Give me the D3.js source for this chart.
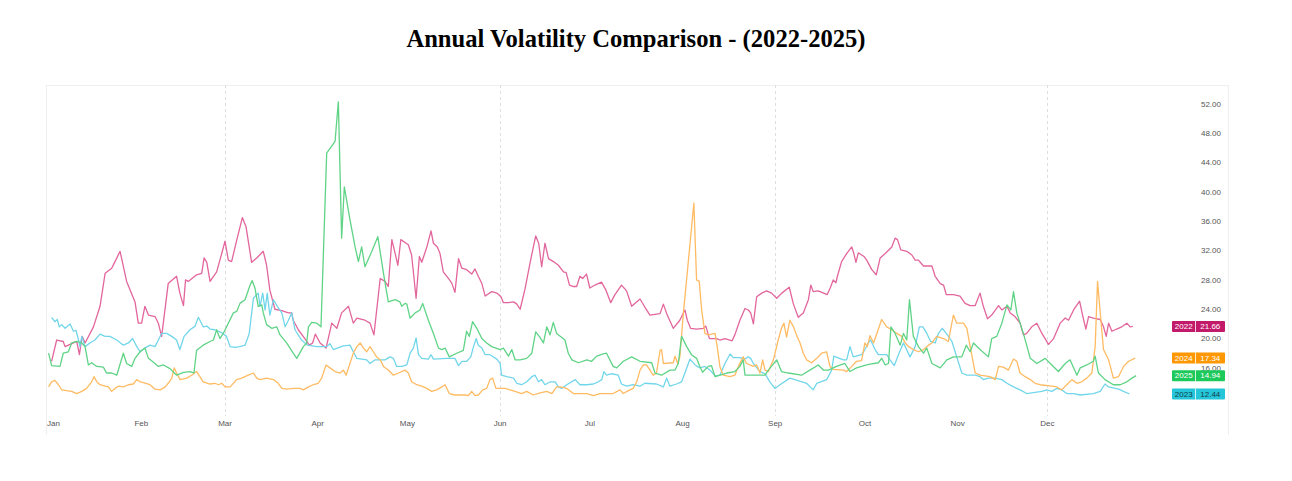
<!DOCTYPE html>
<html>
<head>
<meta charset="utf-8">
<script src="https://cdn.jsdelivr.net/npm/d3@7/dist/d3.min.js"></script>
<style>
  html, body { margin: 0; padding: 0; background: #ffffff; }
  svg { display: block; }
</style>
</head>
<body>
<svg id="chart" width="1292" height="481"></svg>
<script>
// ---------- DATA (day-of-year, value) ----------
const monthStarts = [0, 31, 59, 90, 120, 151, 181, 212, 243, 273, 304, 334];
const monthLabels = ["Jan", "Feb", "Mar", "Apr", "May", "Jun", "Jul", "Aug", "Sep", "Oct", "Nov", "Dec"];
const quarterGrid = [59, 151, 243, 334];
const yTicks = [16, 20, 24, 28, 32, 36, 40, 44, 48, 52];

const vol2022 = [[1,16.9],[2.7,19.8],[4.9,19.6],[5.5,18.9],[8.3,19.4],[9.4,19.6],[10.3,17.8],[11.2,20.3],[12.2,19.4],[15,21.6],[17.2,24.4],[18.9,28.9],[21.1,29.6],[22.2,30.5],[23.9,31.9],[26.1,27.8],[28.9,25.0],[30,22.1],[31.1,22.1],[32.2,24.4],[33.4,23.2],[35.6,23.0],[36.7,22.1],[37.8,20.3],[40,27.5],[42.8,28.5],[43.9,26.2],[45.1,24.5],[45.8,28.0],[46.7,27.8],[49.5,28.7],[51.2,28.9],[52,31.0],[52.9,30.4],[54,27.8],[56.2,29.1],[57.9,31.6],[59,33.3],[60.1,30.7],[61.2,30.5],[62.9,33.4],[64.8,36.5],[66,35.3],[67.9,30.4],[69.6,31.0],[71.8,31.9],[72.9,30.0],[74,26.6],[75.7,24.0],[78,23.8],[80.2,23.5],[81.3,23.5],[81.8,22.5],[83.5,21.2],[85.7,20.0],[87.2,19.1],[88.3,19.4],[89.2,20.6],[90.8,19.4],[92.8,18.7],[94.7,22.1],[96.4,21.4],[98,23.5],[100.3,24.4],[101.9,22.1],[103.1,22.8],[105.8,22.5],[107.5,22.1],[108.8,20.5],[110.9,28.2],[112.5,27.8],[113.6,27.1],[114.8,33.5],[115.9,31.6],[116.8,30.0],[117.8,33.5],[120.3,32.8],[121.4,31.4],[122.9,25.5],[124,31.2],[124.8,30.4],[126.5,32.5],[127.9,34.7],[128.7,33.0],[130,32.5],[130.9,31.6],[132,29.1],[133.7,28.2],[134.8,27.6],[135.9,26.3],[137.1,30.9],[138.2,29.6],[139.8,29.4],[141.5,28.8],[142.6,29.5],[143.7,28.5],[144.9,27.5],[146,25.8],[148.2,26.4],[149.9,26.2],[151.3,25.7],[152.1,24.9],[153.8,24.9],[155.5,25.0],[156.6,24.7],[157.7,24.0],[159.3,26.7],[161,30.3],[162.9,34.0],[163.9,33.0],[164.9,29.8],[166,33.0],[167.2,30.9],[168.8,30.5],[170.5,30.0],[172.2,29.1],[173.1,29.0],[174.2,27.3],[175.5,27.1],[176.6,27.1],[177.7,28.5],[178.6,28.2],[179.9,28.8],[181,26.9],[182.7,27.3],[184.9,27.7],[186.4,26.6],[188,24.9],[189.4,26.0],[191.6,27.3],[193.3,26.5],[195,24.4],[197.8,25.4],[199.4,24.3],[201.1,23.2],[202.8,23.3],[204.5,23.4],[205.6,24.7],[206.9,23.2],[208.9,21.4],[211.1,22.5],[212.8,23.9],[213.6,22.5],[214.7,21.4],[216.7,21.3],[219,21.4],[219.8,21.7],[221,20.0],[223.4,20.0],[224.5,19.8],[226.2,20.0],[228.6,19.7],[229.5,20.5],[231.2,22.5],[232.9,24.1],[234,23.9],[234.8,23.5],[235.7,22.0],[236.8,25.7],[238.5,26.2],[240.1,26.5],[241.8,26.2],[243.5,25.5],[245.2,26.2],[247.7,27.0],[249.1,24.7],[250.7,22.9],[252.4,23.5],[254.1,25.3],[254.9,27.3],[255.7,26.4],[257.4,26.5],[260.4,26.0],[261.5,27.0],[262.4,28.0],[263.3,27.6],[263.8,28.5],[265.2,30.5],[266.9,31.6],[268.6,32.5],[269.3,31.6],[270,30.4],[270.8,31.7],[272.7,31.2],[273.6,30.7],[275.3,29.4],[276.8,28.7],[278.1,31.0],[279.8,31.6],[282,32.5],[283.1,33.7],[283.9,33.5],[285,32.1],[287,31.9],[288.7,31.4],[289.8,30.7],[290.9,30.7],[292.6,29.9],[295.4,29.9],[296.5,28.5],[298.2,27.5],[299.3,27.3],[300.2,26.0],[302.6,26.0],[304.8,25.8],[306.5,24.8],[308.2,24.5],[309.9,24.5],[311.5,26.2],[312.6,24.4],[314,22.7],[315.4,23.2],[317.7,24.5],[318.8,23.9],[320.5,24.4],[321.6,23.5],[323.2,23.0],[324.9,22.1],[326,20.5],[327.1,20.7],[328.8,21.6],[330.5,22.1],[332.2,20.7],[334.4,19.2],[336.1,20.0],[338.3,22.1],[340,22.8],[341.1,22.5],[342.8,23.9],[344.8,25.1],[345.9,23.0],[346.9,21.3],[347.8,23.0],[349.4,22.8],[351.7,22.6],[352.8,21.6],[353.7,20.3],[354.5,22.1],[355.6,21.0],[357.2,21.3],[358.9,21.6],[360.6,22.1],[361.7,21.6],[362.6,21.66]];

const vol2023 = [[1,22.9],[2.1,22.3],[2.9,22.6],[3.6,21.6],[4.4,21.9],[5.5,21.4],[7.2,22.0],[8.3,21.0],[9.2,21.1],[10,19.8],[10.5,18.9],[11.1,20.3],[12.2,18.9],[13.8,19.4],[15.5,19.8],[17.2,20.6],[18.9,20.3],[20.5,20.3],[22.8,19.8],[25,19.1],[26.7,19.4],[28.1,20.0],[29.5,18.9],[30.6,18.2],[32.2,18.7],[33.9,19.1],[35.6,18.9],[36.7,19.8],[37.8,20.7],[39.5,20.7],[41.2,20.3],[42.8,19.8],[43.9,18.5],[45.3,20.3],[47.3,21.2],[49,21.7],[50.1,22.9],[51.7,21.6],[52.9,21.7],[54,21.3],[55.6,21.2],[57.9,20.8],[59.5,20.3],[60.7,18.9],[62.3,18.8],[64,18.9],[65.7,19.1],[67.1,20.7],[68.5,25.5],[70.1,26.2],[70.7,24.4],[71.6,26.2],[72.4,23.9],[73.1,26.2],[74,23.2],[75.2,25.3],[76.5,24.4],[78,23.5],[79.1,21.6],[80.2,22.5],[81.3,23.5],[82.4,21.2],[84.6,19.8],[86.6,19.1],[89.7,18.9],[93,18.9],[94.1,19.3],[95.2,18.5],[98.6,19.0],[100.8,19.1],[101.9,18.2],[103.1,17.3],[106.4,17.1],[107.5,16.6],[109.2,17.1],[112.5,17.1],[114.2,17.5],[115.3,17.3],[116.4,16.2],[118.1,16.2],[119.8,16.4],[120.9,18.0],[122,18.7],[122.9,20.1],[123.7,17.8],[124.8,17.3],[127,17.2],[127.9,17.8],[128.7,17.2],[133.2,17.3],[135.9,17.3],[137.1,16.3],[138.2,16.9],[139.8,16.9],[141.2,17.5],[142.1,18.9],[143,20.0],[143.7,19.1],[144.9,18.7],[146,17.8],[147.6,17.8],[149.9,17.2],[151,16.6],[151.5,15.0],[153.2,14.8],[155.5,14.6],[156.6,13.9],[158.2,13.7],[159.9,14.1],[161.6,14.8],[162.7,15.0],[163.8,14.1],[164.9,14.4],[166,13.7],[167.7,14.1],[169.4,14.1],[170.5,13.4],[171.6,13.2],[173.3,13.7],[176.1,14.4],[177.7,13.7],[180,13.7],[182.2,13.8],[183.8,14.1],[185,14.4],[185.7,15.5],[186.6,15.0],[188.3,15.2],[190.5,15.0],[191.6,13.8],[193.3,13.5],[195.5,13.7],[197.8,13.5],[199.4,13.9],[203.3,13.8],[205.6,13.4],[206.7,14.6],[207.8,13.5],[210,13.8],[211.7,14.1],[212.8,15.3],[214.5,17.2],[216.2,16.4],[217.8,16.0],[219.5,16.2],[221.2,15.7],[222.9,14.9],[224.5,15.0],[226.2,16.6],[227.9,17.9],[229,17.4],[231.2,17.4],[232.9,17.2],[234,17.5],[234.8,17.3],[235.7,16.6],[237.9,15.5],[239.6,15.2],[241.2,14.1],[242.9,13.2],[244.6,13.7],[247.9,14.6],[249.6,14.4],[253.5,13.9],[255.7,13.0],[256.9,13.9],[260.2,14.4],[261.9,15.7],[262.6,17.6],[265.8,17.1],[266.9,17.1],[268,18.9],[269.1,17.5],[271.9,17.8],[273,18.5],[274.1,19.4],[274.9,19.8],[276.4,18.5],[277.5,17.8],[280.3,17.8],[281.4,17.1],[282.8,16.3],[284.2,17.8],[285.9,19.4],[288.1,17.5],[289.8,18.9],[291.2,21.6],[292.4,21.6],[293.7,20.7],[295,19.6],[296.5,19.4],[297.6,20.7],[298.9,21.4],[300.6,20.5],[302.1,19.6],[303.7,17.5],[305.4,15.3],[307.1,15.0],[309.9,15.0],[311.5,14.8],[312.6,14.4],[314.3,14.6],[316.6,14.6],[318.8,14.4],[320.5,13.9],[322.7,13.4],[324.9,13.0],[327.1,12.5],[332.2,12.8],[333.8,13.0],[335.5,12.8],[337.2,13.2],[338.8,13.0],[340.5,12.5],[342.8,12.5],[345,12.3],[349.4,12.5],[351.7,12.8],[353.3,13.8],[354.5,13.4],[357.8,13.1],[359.5,12.8],[361.5,12.44]];

const vol2024 = [[0,13.4],[1,14.1],[2.1,14.3],[3.3,13.7],[4.4,13.0],[6,12.9],[7.7,12.8],[9.4,12.5],[11.1,12.8],[12.7,13.2],[14.4,14.1],[15.2,14.8],[16.1,14.1],[17.2,13.7],[18.9,13.5],[20,13.4],[21.1,12.8],[22.2,13.2],[23.3,13.5],[25,13.4],[26.7,13.7],[28.3,13.8],[29.5,14.4],[30.6,14.1],[31.7,14.0],[33.9,13.7],[35.6,13.1],[37.3,13.0],[39,13.4],[40,13.9],[41.2,14.6],[42,16.0],[42.8,15.3],[44,14.4],[46.2,14.6],[47.8,15.0],[49.5,15.5],[50.6,14.8],[51.7,14.1],[54,13.8],[55.6,13.9],[56.8,13.7],[57.9,13.9],[59,13.4],[60.7,13.4],[62.9,14.4],[64.6,14.6],[66.2,14.9],[68.5,15.3],[69.6,14.6],[70.7,14.4],[72.9,14.6],[75.2,14.4],[76.8,13.9],[78,13.2],[79.6,13.1],[81.8,13.2],[84.1,13.2],[85.2,13.0],[86.9,13.4],[88.5,13.7],[90.2,13.9],[91.3,14.6],[92.8,16.4],[94.1,16.0],[95.8,15.5],[97.5,15.3],[98.6,15.7],[99.5,15.0],[100.3,16.0],[101.9,18.0],[103.1,18.9],[104.2,19.4],[105.3,18.7],[106.4,18.2],[107.5,18.9],[108.6,18.2],[109.7,17.5],[110.9,17.1],[112,16.2],[113.6,15.7],[115.3,15.0],[117,15.3],[119.2,15.7],[120.3,15.3],[121.4,14.1],[123.1,13.7],[124.8,13.5],[126.5,13.2],[128.1,12.8],[129.8,13.0],[131.5,13.4],[132.6,13.7],[134,12.5],[135.9,12.3],[139.3,12.3],[140.4,12.2],[141.5,12.8],[142.6,12.2],[143.7,12.3],[145.2,13.0],[146.5,13.2],[147.6,14.4],[148.5,14.6],[149.6,13.2],[152.7,13.2],[154.3,13.0],[156,12.8],[158.2,12.5],[159.9,12.8],[162.1,12.3],[164.4,12.6],[166.6,12.8],[168.3,12.5],[169.9,13.4],[171.1,13.4],[173.3,13.2],[175.5,12.5],[180,12.5],[182.2,12.2],[184.4,12.5],[188.8,12.5],[191.1,13.0],[192.2,12.5],[193.9,12.9],[195.5,13.2],[196.7,14.1],[197.8,15.7],[198.9,16.4],[200,16.4],[201.1,15.7],[202.2,15.0],[203.3,15.3],[204.5,18.4],[205,18.5],[205.6,16.6],[208.9,16.7],[209.5,17.6],[210.4,16.6],[211.1,17.5],[212.3,23.5],[213.9,30.3],[215.8,38.5],[216.7,28.0],[217.6,27.8],[218.4,23.9],[219.5,20.7],[220.6,20.5],[222.9,20.7],[223.6,18.9],[224.5,16.2],[225.6,15.0],[227.9,14.8],[229.5,15.0],[230.7,16.2],[232.3,17.5],[233.4,16.6],[235.7,16.2],[236.8,16.4],[237.9,15.3],[238.8,17.1],[239.6,15.7],[240.7,15.5],[242.4,17.1],[244,19.8],[245.1,21.4],[245.9,22.1],[246.8,20.2],[247.9,22.5],[249.1,21.6],[250.2,20.4],[251.3,19.4],[252.4,18.0],[253.5,17.1],[255.2,16.7],[256.9,17.3],[258.5,18.0],[260.2,18.2],[261.3,16.2],[262.4,15.8],[265.8,15.7],[266.9,15.5],[268.6,16.2],[270.2,16.9],[271.9,17.0],[273,19.4],[273.8,18.9],[274.7,20.4],[275.9,19.4],[277,20.7],[278.6,22.6],[280.3,21.6],[282,21.2],[283.7,20.7],[285.3,20.3],[286.5,19.4],[287.6,18.9],[289.2,18.5],[290.9,18.2],[292.6,18.5],[294.3,19.1],[295.4,19.4],[297,20.3],[299.3,20.0],[300.9,19.6],[302.6,23.2],[303.7,22.1],[306,22.1],[307.1,21.4],[308.2,18.9],[309.9,15.3],[311.5,15.0],[314.9,14.8],[316.6,14.4],[317.7,16.2],[319.3,16.1],[321,15.7],[322.7,17.2],[323.8,16.9],[324.9,15.3],[326.6,14.8],[328.3,14.4],[329.9,13.9],[331.6,13.7],[335.5,13.5],[337.2,13.4],[338.8,13.0],[340.5,13.7],[342.2,14.4],[343.9,13.9],[345.5,14.1],[347.2,14.6],[348.9,15.3],[350,18.9],[350.8,27.8],[351.7,23.5],[352.8,18.5],[354.5,17.1],[356.1,14.6],[357.8,14.8],[359.5,16.2],[361.2,16.9],[363.4,17.34]];

const vol2025 = [[0,18.0],[1,16.3],[3.8,16.2],[4.9,18.0],[6.6,18.2],[7.7,19.4],[9.4,19.6],[11.1,19.4],[12.2,18.9],[13.3,16.4],[14.4,16.7],[16.1,16.2],[18.3,16.1],[19.4,15.3],[21.1,15.3],[22.8,15.0],[25,18.0],[26.1,16.6],[27.8,16.2],[28.9,17.3],[30.6,18.2],[32.2,18.7],[33.4,17.3],[35.6,16.6],[36.7,16.2],[38.4,16.4],[40.6,15.9],[42.8,15.0],[45.1,15.4],[47.3,15.5],[48.6,15.3],[49.5,18.4],[51.7,19.1],[54,19.6],[55.1,19.8],[56.2,21.2],[57.3,20.0],[58.4,20.7],[60.1,22.1],[61.8,23.5],[62.9,23.7],[64,24.8],[65.7,25.3],[67.4,27.3],[68.1,27.9],[69,26.9],[70.1,24.4],[71.3,24.6],[71.8,23.5],[72.9,21.9],[74.6,21.4],[76.3,21.6],[77.4,20.5],[79.6,19.4],[81.8,18.0],[83,17.3],[85.2,18.9],[86.3,19.4],[86.9,21.6],[88,22.2],[89.7,22.1],[91.1,21.6],[93,45.3],[95.8,46.9],[96.9,52.3],[98,33.7],[98.9,40.7],[100.8,36.2],[102.5,32.5],[103.6,30.5],[104.7,32.5],[105.8,29.8],[108.1,31.9],[110.1,33.9],[112,28.9],[113.6,25.0],[115.9,25.3],[117.5,25.0],[118.1,24.4],[119.2,24.8],[119.8,24.7],[120.9,22.8],[122.6,23.5],[124.2,23.9],[125.1,24.8],[127,22.5],[128.7,20.7],[130.4,18.7],[131.5,18.5],[132.6,18.7],[134,17.5],[136.5,18.0],[138.7,18.4],[139.8,21.0],[140.7,20.3],[141.8,22.3],[143.2,21.4],[144.9,20.0],[146.5,19.4],[148.2,18.9],[151,18.5],[152.1,18.7],[153.8,17.6],[154.9,18.5],[156,17.1],[157.7,17.1],[159.9,17.3],[161.6,18.0],[162.9,20.9],[164.1,20.3],[165.5,19.4],[166.6,21.6],[167.7,20.5],[168.8,22.2],[169.9,20.7],[172.7,19.8],[173.8,18.0],[175,17.1],[177.2,16.7],[180,17.1],[181.6,16.9],[183.3,17.6],[185.5,17.9],[186.6,18.0],[188.8,16.2],[190,16.0],[192.2,16.9],[195,17.5],[197.8,16.9],[201.7,16.7],[202.8,15.3],[205,15.0],[207.8,15.7],[209.5,15.7],[210.6,16.6],[211.7,20.3],[213.4,18.9],[215,17.8],[216.7,17.3],[217.8,16.2],[218.7,15.4],[220.6,16.2],[221.7,16.3],[222.9,14.8],[226.8,15.3],[229.5,15.5],[231.2,16.2],[232.3,17.1],[232.9,15.0],[236.2,15.0],[239.6,15.0],[240.7,15.7],[243.5,17.1],[245.1,15.5],[247.4,15.3],[251.8,15.0],[254.6,15.7],[257.4,16.4],[259.1,15.7],[260.8,15.7],[263.5,16.2],[266.3,16.6],[268,15.5],[270.2,16.0],[273.6,16.4],[274.7,16.5],[277.5,16.7],[278.6,17.3],[279.8,16.4],[280.9,16.6],[281.7,21.6],[283.1,20.7],[284.8,19.1],[285.9,20.7],[287,19.8],[287.9,25.3],[289.2,20.3],[290.9,18.9],[292.6,18.0],[293.7,18.7],[295.4,16.6],[298.2,16.0],[300.4,17.1],[302.6,17.5],[305.4,17.5],[306.9,19.1],[308.2,18.2],[309.3,19.4],[311.5,18.5],[314.3,17.5],[315.4,20.0],[317.1,20.3],[318.8,22.1],[320.5,24.6],[321.8,23.9],[322.7,26.4],[323.8,23.5],[326,20.7],[328.3,17.3],[330.5,16.6],[333.3,17.3],[335.5,16.4],[337.7,15.5],[340,16.6],[341.6,17.1],[343.9,15.0],[345,16.0],[347.2,16.4],[349.4,16.9],[350,17.6],[351.1,15.3],[353.3,14.4],[356.1,13.7],[358.4,13.7],[360.6,14.1],[362.3,14.6],[363.7,14.94]];

const seriesNames = ["2022", "2023", "2024", "2025"];
const lastValues = ["21.66", "12.44", "17.34", "14.94"];
const lineColors = ["#e2669c", "#72d6ea", "#ffbb63", "#5fd386"];
const badgeColors = ["#c3196a", "#26c6da", "#ff9800", "#1ec95b"];
const badgeText = ["#ffffff", "#12404c", "#ffffff", "#ffffff"];
const seriesData = [vol2022, vol2023, vol2024, vol2025];

// ---------- CHART ----------
const svg = d3.select("#chart");
const W = 1292, H = 481;
svg.append("rect").attr("width", W).attr("height", H).attr("fill", "#ffffff");

const pane = { left: 46, top: 85, right: 1228, bottom: 435 };

const x = d3.scaleLinear().domain([0, 365]).range([48.6, 1140]);
const y = d3.scaleLinear().domain([12, 52]).range([397.2, 104]);

// title
svg.append("text")
  .attr("x", 636).attr("y", 47)
  .attr("text-anchor", "middle")
  .attr("font-family", "'Liberation Serif', 'Times New Roman', serif")
  .attr("font-weight", "bold")
  .attr("font-size", 24.6)
  .attr("fill", "#000")
  .text("Annual Volatility Comparison - (2022-2025)");

// pane borders
const border = svg.append("g").attr("stroke", "#efefef").attr("stroke-width", 1).attr("fill", "none");
border.append("line").attr("x1", pane.left).attr("x2", pane.right).attr("y1", pane.top + 0.5).attr("y2", pane.top + 0.5);
border.append("line").attr("x1", pane.left + 0.5).attr("x2", pane.left + 0.5).attr("y1", pane.top).attr("y2", pane.bottom);
border.append("line").attr("x1", pane.right + 0.5).attr("x2", pane.right + 0.5).attr("y1", pane.top).attr("y2", pane.bottom);

// quarter dashed grid
svg.append("g").selectAll("line").data(quarterGrid).join("line")
  .attr("x1", d => Math.round(x(d)) + 0.5).attr("x2", d => Math.round(x(d)) + 0.5)
  .attr("y1", pane.top).attr("y2", 416)
  .attr("stroke", "#dedede").attr("stroke-width", 1).attr("stroke-dasharray", "3,3");

// x axis labels
const xAxisG = svg.append("g").attr("font-family", "'Liberation Sans', Arial, sans-serif")
  .attr("font-size", 8).attr("fill", "#555");
monthStarts.forEach((d, i) => {
  const t = xAxisG.append("text").attr("y", 426).attr("text-anchor", "middle").text(monthLabels[i]);
  let cx = x(d);
  const w = t.node().getComputedTextLength();
  if (cx - w / 2 < pane.left + 1) cx = pane.left + 1 + w / 2;
  t.attr("x", cx);
});

// y axis labels (right price scale)
const yAxisG = svg.append("g").attr("font-family", "'Liberation Sans', Arial, sans-serif")
  .attr("font-size", 8).attr("fill", "#555");
yAxisG.selectAll("text").data(yTicks).join("text")
  .attr("x", 1221).attr("y", d => y(d)).attr("dy", "0.35em")
  .attr("text-anchor", "end")
  .text(d => d3.format(".2f")(d));

// lines
const line = d3.line().x(d => x(d[0])).y(d => y(d[1]));
const linesG = svg.append("g");
seriesData.forEach((data, i) => {
  linesG.append("path")
    .datum(data)
    .attr("d", line)
    .attr("fill", "none")
    .attr("stroke", lineColors[i])
    .attr("stroke-width", 1.3)
    .attr("stroke-linejoin", "round");
});

// last-value badges
const badgeG = svg.append("g").attr("font-family", "'Liberation Sans', Arial, sans-serif").attr("font-size", 8);
seriesData.forEach((data, i) => {
  const v = +lastValues[i];
  const cy = y(v);
  const g = badgeG.append("g");
  g.append("rect").attr("x", 1172).attr("y", cy - 5.5).attr("width", 53).attr("height", 11)
    .attr("rx", 1).attr("fill", badgeColors[i]);
  g.append("line").attr("x1", 1195.5).attr("x2", 1195.5).attr("y1", cy - 5.5).attr("y2", cy + 5.5)
    .attr("stroke", "#ffffff").attr("stroke-opacity", 0.8).attr("stroke-width", 1);
  g.append("text").attr("x", 1183.7).attr("y", cy).attr("dy", "0.35em").attr("text-anchor", "middle")
    .attr("fill", badgeText[i]).text(seriesNames[i]);
  g.append("text").attr("x", 1210.3).attr("y", cy).attr("dy", "0.35em").attr("text-anchor", "middle")
    .attr("fill", badgeText[i]).text(lastValues[i]);
});
</script>
</body>
</html>
